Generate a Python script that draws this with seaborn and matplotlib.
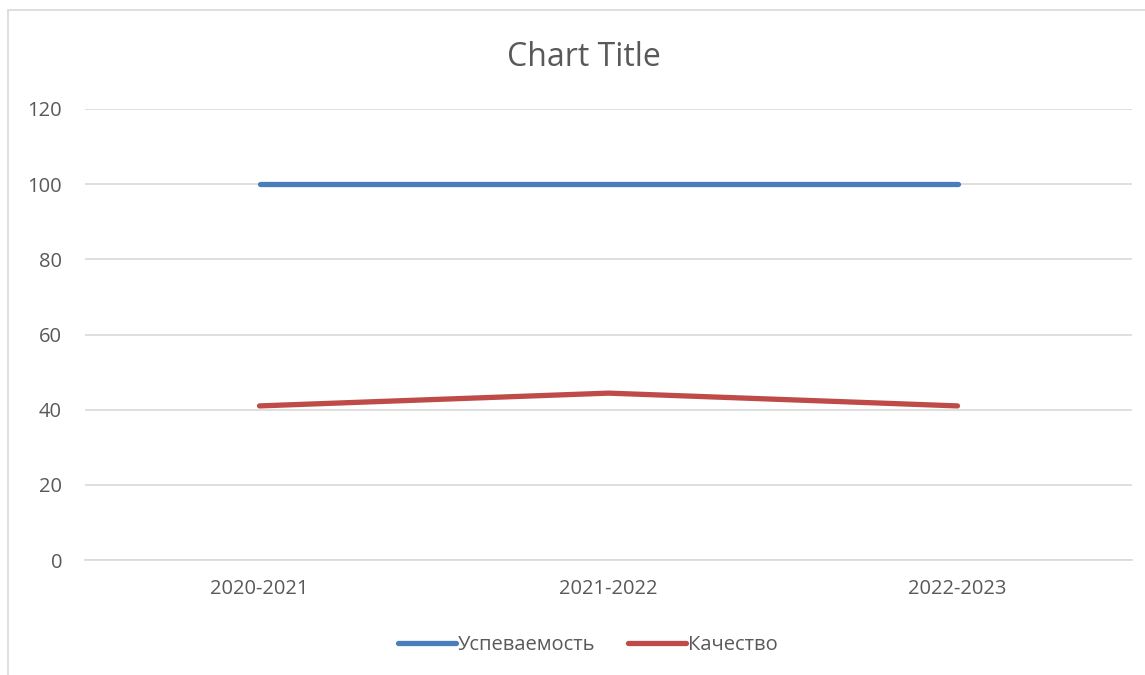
import numpy as np
import pandas as pd
import matplotlib.pyplot as plt
import seaborn as sns
from matplotlib.patches import Rectangle

#%% Data
years = ['2020-2021', '2021-2022', '2022-2023']
uspev = [100, 100, 100]      # Успеваемость
kachestvo = [41, 44.4, 41]   # Качество
series_names = ['Успеваемость', 'Качество']

df = pd.DataFrame({
    'Год': years * 2,
    'Значение': uspev + kachestvo,
    'Серия': [series_names[0]] * 3 + [series_names[1]] * 3,
})

#%% Style
sns.set_theme(style="white")
plt.rcParams['font.family'] = ['Open Sans', 'DejaVu Sans']
txt = '#595959'

fig = plt.figure(figsize=(11.45, 6.75), dpi=100)
ax = fig.add_axes([85/1145, 1 - 560/675, (1132-85)/1145, (560-109)/675])

sns.lineplot(data=df, x='Год', y='Значение', hue='Серия', sort=False,
             palette=['#4A7EBB', '#BE4B48'], linewidth=3.8,
             solid_capstyle='round', ax=ax)

ax.set_xlim(-0.5, 2.5)
ax.set_ylim(0, 120)
ax.set_yticks(np.arange(0, 121, 20))
ax.grid(axis='y', color='#D9D9D9', linewidth=1.2)
ax.set_axisbelow(True)
for s in ['top', 'right', 'left']:
    ax.spines[s].set_visible(False)
ax.spines['bottom'].set_color('#D9D9D9')
ax.spines['bottom'].set_linewidth(1.2)
ax.tick_params(axis='both', length=0, labelsize=14.5, colors=txt)
ax.tick_params(axis='y', pad=16.5)
ax.tick_params(axis='x', pad=14)
ax.set_xlabel('')
ax.set_ylabel('')

leg = ax.legend(loc='center', bbox_to_anchor=(588/1145, 1 - 645/675),
                bbox_transform=fig.transFigure, ncol=2, frameon=False,
                fontsize=14.5, handlelength=2.9, handletextpad=0.1,
                columnspacing=1.6)
for t in leg.get_texts():
    t.set_color(txt)

fig.text(584/1145, 1 - 57/675, 'Chart Title', ha='center', va='center',
         fontsize=23, color=txt)

# chart border
fig.patches.append(Rectangle((8/1145, -0.1), 1.2, 1 - 10/675 + 0.1,
                             transform=fig.transFigure, fill=False,
                             edgecolor='#D9D9D9', linewidth=1.2))

fig.savefig('out.png', dpi=100)
